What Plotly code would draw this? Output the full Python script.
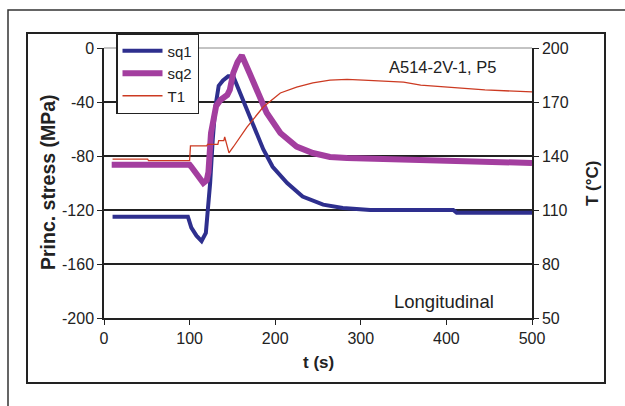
import plotly.graph_objects as go

# ---- data ----
t_sq1 = [10, 98, 102, 108, 114, 119, 121, 124, 127, 130, 134, 139, 145, 151,
         162, 174, 186, 197, 214, 232, 256, 279, 311, 350, 408, 412, 500]
sq1 = [-125, -125, -133, -139, -143, -137, -122, -100, -68, -44, -28, -24, -21, -21,
       -38, -56, -75, -88, -100, -110, -116, -118.5, -120, -120, -120, -122, -122]

t_sq2 = [9, 100, 102, 110, 116, 120, 122, 125, 128, 131, 136, 144, 147, 151, 156, 161,
         170, 182, 190, 206, 225, 244, 264, 284, 311, 349, 412, 451, 500]
sq2 = [-86.5, -86.5, -88, -95, -100, -98, -92, -63, -50, -43, -38.5, -34.8, -31, -18.5, -10.4, -5.5,
       -18.5, -36, -48, -63, -73, -77.8, -80.7, -81.5, -82, -83, -84.4, -85.2, -85.2]

t_T1 = [10, 51, 52, 100, 101, 120, 121, 133, 134, 140, 141, 146, 151, 167, 186, 206,
        225, 244, 264, 284, 303, 350, 370, 415, 445, 500]
T1 = [138.3, 138.3, 137.4, 137.4, 145.6, 145.6, 146.5, 146.5, 148.5, 148.5, 150.6, 141.7, 145,
      156.1, 167.2, 175, 178.3, 180.6, 182.2, 182.6, 182.2, 181, 179.4, 177.8, 176.7, 175.6]

x_ticks = [0, 100, 200, 300, 400, 500]
y1_ticks = [0, -40, -80, -120, -160, -200]
y1_labels = ["0", "-40", "-80", "-120", "-160", "-200"]
y2_ticks = [200, 170, 140, 110, 80, 50]

fig = go.Figure()
fig.add_trace(go.Scatter(x=t_sq1, y=sq1, name="sq1", mode="lines", legendgroup="a",
                         line=dict(color="#2E2F8E", width=4)))
fig.add_trace(go.Scatter(x=t_sq2, y=sq2, name="sq2", mode="lines", legendgroup="b",
                         line=dict(color="#A33E9F", width=6)))
fig.add_trace(go.Scatter(x=t_T1, y=T1, name="T1", mode="lines", legendgroup="c", yaxis="y2",
                         line=dict(color="#CC3A22", width=1.3)))

FONT = "Arial, Liberation Sans"
tickfont = dict(family=FONT, size=16, color="#222")

L, R, T, B = 104, 532, 48, 318
W, H = 625, 406

def px(x):
    return (x - L) / (R - L)

def py(y):
    return (B - y) / (B - T)

fig.update_layout(
    width=W, height=H,
    margin=dict(l=L, r=W - R, t=T, b=H - B),
    paper_bgcolor="white", plot_bgcolor="white",
    showlegend=True,
    legend=dict(x=px(116), y=py(33), xanchor="left", yanchor="top",
                bgcolor="white", bordercolor="#222", borderwidth=1.5,
                font=dict(family=FONT, size=15, color="#222"),
                tracegroupgap=0, itemwidth=40),
    xaxis=dict(range=[0, 500], tickvals=x_ticks, ticks="outside", ticklen=5,
               tickcolor="#222", showline=True, linecolor="#222", linewidth=1.5,
               showgrid=False, zeroline=False, tickfont=tickfont),
    yaxis=dict(range=[-200, 0], tickvals=y1_ticks, ticktext=y1_labels,
               ticks="outside", ticklen=5,
               tickcolor="#222", showline=True, linecolor="#222", linewidth=1.5,
               showgrid=True, gridcolor="#222", gridwidth=1.5, zeroline=False,
               tickfont=tickfont),
    yaxis2=dict(range=[50, 200], tickvals=y2_ticks, overlaying="y", side="right",
                ticks="outside", ticklen=5, tickcolor="#222", showline=True,
                linecolor="#222", linewidth=1.5, showgrid=False, zeroline=False,
                tickfont=tickfont),
)

shapes = [
    # outer frame
    dict(type="rect", xref="paper", yref="paper", x0=px(8), x1=px(640), y0=py(420), y1=py(10),
         line=dict(color="#333", width=1.5), layer="below"),
    # inner chart box
    dict(type="rect", xref="paper", yref="paper", x0=px(27), x1=px(605), y0=py(383), y1=py(33),
         line=dict(color="#222", width=2), layer="below"),
    # top plot border
    dict(type="line", xref="paper", yref="paper", x0=0, x1=1, y0=1, y1=1,
         line=dict(color="#888", width=1), layer="below"),
]
fig.update_layout(shapes=shapes)

def note(text, x, y, size, angle=0):
    fig.add_annotation(text=text, xref="paper", yref="paper", x=px(x), y=py(y),
                       xanchor="center", yanchor="middle", showarrow=False,
                       textangle=angle, font=dict(family=FONT, size=size, color="#222"))

note("<b>Princ. stress (MPa)</b>", 48, 182, 19.5, -90)
note("<b>T (°C)</b>", 592, 183, 17, -90)
note("<b>t (s)</b>", 318, 362, 17)
note("A514-2V-1, P5", 442, 67, 16.5)
note("Longitudinal", 444, 301, 18.5)

fig.write_html("out.html", config={"displayModeBar": False},
               post_script="document.body.style.margin='0';")
